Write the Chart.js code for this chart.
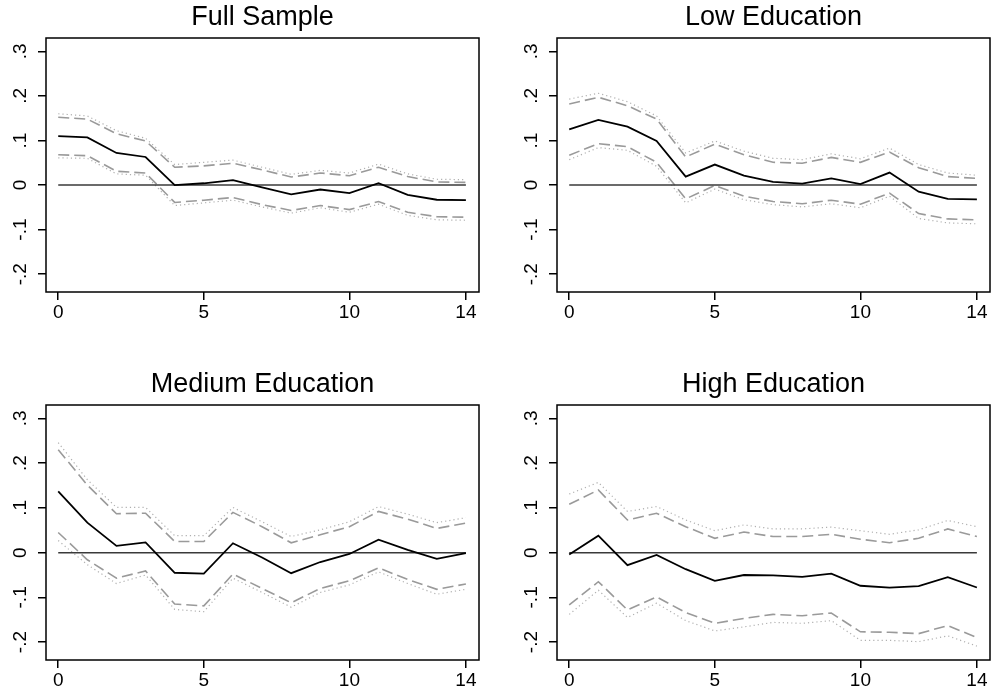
<!DOCTYPE html>
<html>
<head>
<meta charset="utf-8">
<script src="https://cdn.jsdelivr.net/npm/chart.js@4"></script>
<style>
  html, body { margin: 0; padding: 0; background: #fff; overflow: hidden; }
  body { width: 992px; height: 694px; position: relative; }
  canvas { position: absolute; }
</style>
</head>
<body>
<canvas id="fullChart" width="481" height="326" style="left:0;top:0"></canvas>
<canvas id="lowChart" width="481" height="326" style="left:511px;top:0"></canvas>
<canvas id="mediumChart" width="481" height="327" style="left:0;top:367px"></canvas>
<canvas id="highChart" width="481" height="327" style="left:511px;top:367px"></canvas>
<script>
const periods = [0, 1, 2, 3, 4, 5, 6, 7, 8, 9, 10, 11, 12, 13, 14];
const xTicks = [0, 5, 10, 14];
const yTicks = [-0.2, -0.1, 0, 0.1, 0.2, 0.3];

// Full sample
const fullEst    = [0.110, 0.107, 0.072, 0.063, 0.000, 0.004, 0.011, -0.005, -0.021, -0.010, -0.018, 0.004, -0.022, -0.033, -0.034];
const fullDashHi = [0.152, 0.148, 0.115, 0.099, 0.040, 0.043, 0.049, 0.034, 0.018, 0.027, 0.021, 0.040, 0.019, 0.007, 0.006];
const fullDashLo = [0.068, 0.066, 0.031, 0.027, -0.039, -0.034, -0.028, -0.044, -0.057, -0.046, -0.055, -0.037, -0.061, -0.071, -0.072];
const fullDotHi  = [0.160, 0.155, 0.122, 0.105, 0.046, 0.051, 0.056, 0.040, 0.024, 0.033, 0.027, 0.047, 0.025, 0.013, 0.012];
const fullDotLo  = [0.061, 0.060, 0.025, 0.022, -0.046, -0.040, -0.034, -0.049, -0.063, -0.051, -0.061, -0.043, -0.068, -0.078, -0.079];

// Low education
const lowEst    = [0.125, 0.146, 0.131, 0.099, 0.019, 0.046, 0.021, 0.007, 0.003, 0.015, 0.002, 0.028, -0.015, -0.031, -0.032];
const lowDashHi = [0.182, 0.197, 0.178, 0.148, 0.063, 0.092, 0.068, 0.051, 0.049, 0.062, 0.051, 0.074, 0.039, 0.019, 0.015];
const lowDashLo = [0.067, 0.093, 0.086, 0.051, -0.031, -0.001, -0.025, -0.037, -0.042, -0.034, -0.043, -0.018, -0.064, -0.076, -0.078];
const lowDotHi  = [0.193, 0.206, 0.187, 0.155, 0.072, 0.099, 0.076, 0.060, 0.057, 0.070, 0.059, 0.083, 0.046, 0.027, 0.022];
const lowDotLo  = [0.057, 0.084, 0.078, 0.042, -0.040, -0.009, -0.033, -0.044, -0.049, -0.042, -0.051, -0.025, -0.075, -0.085, -0.087];

// Medium education
const medEst    = [0.137, 0.067, 0.015, 0.023, -0.045, -0.047, 0.021, -0.011, -0.046, -0.021, -0.003, 0.029, 0.006, -0.014, -0.001];
const medDashHi = [0.230, 0.151, 0.087, 0.088, 0.025, 0.025, 0.090, 0.058, 0.022, 0.040, 0.058, 0.092, 0.075, 0.054, 0.066];
const medDashLo = [0.045, -0.016, -0.057, -0.041, -0.115, -0.119, -0.048, -0.080, -0.112, -0.080, -0.063, -0.034, -0.060, -0.082, -0.070];
const medDotHi  = [0.246, 0.163, 0.101, 0.101, 0.038, 0.038, 0.101, 0.069, 0.036, 0.051, 0.069, 0.103, 0.086, 0.067, 0.078];
const medDotLo  = [0.027, -0.027, -0.069, -0.050, -0.127, -0.132, -0.057, -0.089, -0.122, -0.089, -0.072, -0.043, -0.069, -0.093, -0.082];

// High education
const highEst    = [-0.004, 0.038, -0.028, -0.005, -0.037, -0.063, -0.050, -0.051, -0.054, -0.047, -0.074, -0.078, -0.075, -0.055, -0.078];
const highDashHi = [0.108, 0.140, 0.073, 0.088, 0.058, 0.032, 0.046, 0.036, 0.036, 0.041, 0.030, 0.022, 0.032, 0.053, 0.036];
const highDashLo = [-0.117, -0.065, -0.128, -0.099, -0.134, -0.158, -0.147, -0.138, -0.141, -0.135, -0.177, -0.178, -0.181, -0.163, -0.190];
const highDotHi  = [0.131, 0.157, 0.092, 0.103, 0.073, 0.049, 0.062, 0.053, 0.053, 0.057, 0.049, 0.041, 0.051, 0.072, 0.058];
const highDotLo  = [-0.138, -0.084, -0.145, -0.113, -0.152, -0.175, -0.166, -0.156, -0.158, -0.152, -0.196, -0.196, -0.199, -0.186, -0.209];

const FONT = 'Liberation Sans, Arial, Helvetica, sans-serif';

// draws the closed box around the plot region
const frameBox = {
  id: 'frameBox',
  afterDraw(chart) {
    const { ctx, chartArea: a } = chart;
    ctx.save();
    ctx.strokeStyle = '#000';
    ctx.lineWidth = 1.5;
    ctx.strokeRect(a.left, a.top, a.right - a.left, a.bottom - a.top);
    ctx.restore();
  },
};

function toPoints(values) {
  return periods.map((p, i) => ({ x: p, y: values[i] }));
}

function formatY(v) {
  if (Math.abs(v) < 1e-9) return '0';
  const s = Math.abs(v).toFixed(1).replace(/^0/, '');
  return (v < 0 ? '-' : '') + s;
}

function renderPanel(id, title, est, dashHi, dashLo, dotHi, dotLo) {
  const ctx = document.getElementById(id);
  const line = (values, color, width, dash) => ({
    data: toPoints(values),
    borderColor: color,
    borderWidth: width,
    borderDash: dash,
    pointRadius: 0,
    tension: 0,
    fill: false,
  });

  new Chart(ctx, {
    type: 'line',
    data: {
      datasets: [
        line(est, '#000', 1.8, []),
        line(periods.map(() => 0), '#3a3a3a', 1.5, []),
        line(dashHi, '#9a9a9a', 1.6, [11, 5]),
        line(dashLo, '#9a9a9a', 1.6, [11, 5]),
        line(dotHi, '#b0b0b0', 1.2, [1.2, 3]),
        line(dotLo, '#b0b0b0', 1.2, [1.2, 3]),
      ],
    },
    options: {
      responsive: false,
      animation: false,
      layout: { padding: { left: 0, right: 2, top: 0, bottom: 0 } },
      scales: {
        x: {
          type: 'linear',
          min: -0.42,
          max: 14.45,
          afterBuildTicks: (scale) => {
            scale.ticks = xTicks.map((v) => ({ value: v }));
          },
          afterFit: (scale) => {
            scale.height = 34;
          },
          grid: { display: true, drawOnChartArea: false, drawTicks: true, tickLength: 8, color: '#000', lineWidth: 1.5 },
          border: { display: false },
          ticks: {
            color: '#000',
            font: { family: FONT, size: 19 },
            padding: 1,
            maxRotation: 0,
            autoSkip: false,
            callback: (v) => String(v),
          },
        },
        y: {
          min: -0.24,
          max: 0.33,
          afterBuildTicks: (scale) => {
            scale.ticks = yTicks.map((v) => ({ value: v }));
          },
          afterFit: (scale) => {
            scale.width = 46;
          },
          grid: { display: true, drawOnChartArea: false, drawTicks: true, tickLength: 8, color: '#000', lineWidth: 1.5 },
          border: { display: false },
          ticks: {
            color: '#000',
            font: { family: FONT, size: 19 },
            padding: 6,
            minRotation: 90,
            maxRotation: 90,
            crossAlign: 'center',
            autoSkip: false,
            callback: (v) => formatY(v),
          },
        },
      },
      plugins: {
        legend: { display: false },
        tooltip: { enabled: false },
        title: {
          display: true,
          text: title,
          fullSize: false,
          color: '#000',
          font: { family: FONT, size: 27, weight: 'normal' },
          padding: { top: 1, bottom: 4.6 },
        },
      },
    },
    plugins: [frameBox],
  });
}

renderPanel('fullChart', 'Full Sample', fullEst, fullDashHi, fullDashLo, fullDotHi, fullDotLo);
renderPanel('lowChart', 'Low Education', lowEst, lowDashHi, lowDashLo, lowDotHi, lowDotLo);
renderPanel('mediumChart', 'Medium Education', medEst, medDashHi, medDashLo, medDotHi, medDotLo);
renderPanel('highChart', 'High Education', highEst, highDashHi, highDashLo, highDotHi, highDotLo);
</script>
</body>
</html>
